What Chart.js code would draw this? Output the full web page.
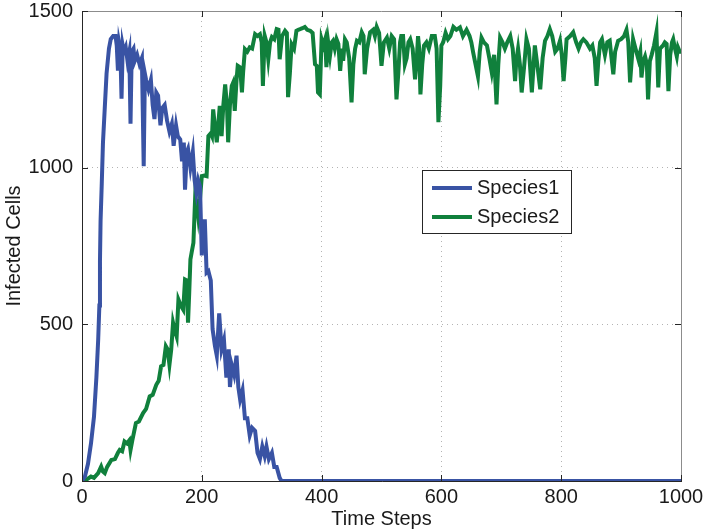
<!DOCTYPE html>
<html>
<head>
<meta charset="utf-8">
<script src="https://cdn.jsdelivr.net/npm/chart.js@4.4.0/dist/chart.umd.min.js"></script>
<style>
  html, body { margin: 0; padding: 0; background: #fff; }
  #plot { display: block; }
</style>
</head>
<body>
<canvas id="plot" width="704" height="531"></canvas>
<script>
// values
var seriesNames = ['Species1', 'Species2'];
var xTicks = [0, 200, 400, 600, 800, 1000];
var yTicks = [0, 500, 1000, 1500];

var steps1 = [0,5,10,15,20,24,27,29,30,31,33,35,38,41,45,48,52,56,58,60,62,64,66,68,70,73,76,79,81,83,86,88,92,96,100,103,105,107,111,115,118,121,124,127,129,131,134,138,142,146,150,153,157,160,164,167,170,172,175,177,181,185,188,191,194,197,200,202,205,208,211,215,218,222,225,229,233,237,241,245,247,250,254,258,261,264,268,272,276,280,284,289,293,297,301,305,308,312,317,321,325,330,333,1000];
var cells1 = [0,15,55,120,205,330,450,560,700,830,950,1080,1190,1300,1380,1410,1420,1420,1390,1310,1400,1380,1220,1390,1370,1385,1340,1370,1140,1370,1380,1340,1360,1330,1350,1005,1300,1280,1250,1280,1200,1155,1240,1230,1180,1135,1190,1200,1150,1115,1140,1070,1135,1100,1090,1020,1080,930,1050,1060,1000,1050,960,920,960,940,720,800,835,665,670,640,485,430,400,535,420,450,330,420,300,370,340,400,300,260,290,200,200,145,170,160,90,70,110,80,110,70,90,45,45,10,0,0];

var steps2 = [0,8,15,20,27,32,35,38,42,49,55,60,63,67,71,75,79,81,84,90,95,102,107,113,118,124,128,132,136,140,143,146,149,152,155,158,161,165,169,172,175,177,179,181,183,186,189,192,194,197,200,204,208,211,215,217,219,222,225,228,230,233,236,239,242,244,247,250,252,255,258,260,264,267,269,272,276,280,284,289,293,297,300,302,305,308,311,314,317,321,325,328,330,334,339,342,344,347,350,354,358,361,364,368,372,376,381,385,389,392,394,397,400,403,406,408,411,414,417,419,422,425,428,431,434,436,439,442,446,450,453,456,459,463,467,470,472,476,481,486,489,492,496,500,504,509,513,517,521,525,528,531,533,536,539,542,545,548,552,556,559,561,563,565,568,571,575,579,584,589,592,595,598,600,603,607,611,615,620,625,631,636,642,647,650,653,657,661,664,667,671,676,680,684,688,692,695,698,702,706,710,715,719,723,725,728,731,734,738,742,746,751,753,756,760,765,769,773,777,781,785,790,794,798,801,804,807,809,815,820,825,829,833,837,842,848,852,856,859,862,865,868,871,873,877,881,884,887,890,895,900,905,909,912,915,918,920,924,929,932,934,937,940,943,945,948,951,955,959,962,965,970,973,976,979,982,985,987,990,993,995,998,1000];
var cells2 = [0,5,14,10,25,46,30,25,45,67,70,90,99,95,126,120,130,99,130,185,190,217,230,270,275,307,320,366,370,430,420,371,420,505,480,461,579,560,547,643,640,505,600,707,729,760,909,880,845,900,973,975,973,1101,1110,1101,1186,1130,1081,1150,1197,1101,1200,1266,1200,1081,1200,1261,1270,1181,1280,1325,1320,1240,1305,1378,1370,1384,1380,1426,1420,1426,1400,1261,1421,1400,1346,1400,1417,1410,1442,1440,1346,1420,1437,1430,1225,1300,1394,1380,1437,1440,1442,1445,1449,1440,1437,1430,1330,1325,1240,1234,1410,1390,1410,1321,1400,1357,1400,1405,1380,1410,1395,1309,1380,1341,1410,1400,1350,1208,1330,1380,1405,1400,1432,1420,1298,1380,1432,1440,1420,1449,1430,1325,1400,1415,1380,1420,1410,1218,1300,1400,1420,1420,1330,1350,1400,1410,1380,1282,1350,1420,1380,1234,1330,1390,1400,1380,1420,1420,1380,1145,1260,1390,1400,1430,1410,1420,1449,1440,1448,1420,1440,1420,1400,1368,1330,1292,1370,1415,1400,1390,1350,1305,1360,1202,1330,1415,1400,1380,1400,1420,1380,1276,1340,1380,1330,1240,1320,1410,1380,1240,1300,1390,1330,1250,1350,1405,1420,1442,1420,1370,1380,1405,1360,1276,1350,1410,1420,1432,1400,1380,1400,1410,1400,1380,1390,1350,1261,1340,1400,1410,1380,1360,1400,1405,1350,1298,1370,1405,1410,1420,1440,1400,1272,1350,1410,1380,1345,1370,1288,1340,1355,1330,1218,1340,1360,1390,1432,1256,1380,1390,1400,1395,1244,1360,1400,1410,1380,1355,1384,1370,1370];

var FONT = '"Liberation Sans", Arial, Helvetica, sans-serif';
var INK = '#1a1a1a';

function toPoints(xs, ys) {
    return xs.map(function (x, i) { return { x: x, y: ys[i] }; });
}

function plainLabel(v) { return String(v); }

// MATLAB style box, inward ticks and the legend
var boxPlugin = {
    id: 'box',
    afterDatasetsDraw: function (chart) {
        var ctx = chart.ctx;
        var a = chart.chartArea;
        var xs = chart.scales.x, ys = chart.scales.y;
        ctx.save();
        ctx.lineWidth = 1;
        ctx.strokeStyle = '#8c8c8c';
        ctx.beginPath();
        ctx.moveTo(a.left, a.top + 0.5);
        ctx.lineTo(a.right + 0.5, a.top + 0.5);
        ctx.lineTo(a.right + 0.5, a.bottom);
        ctx.stroke();
        ctx.strokeStyle = '#262626';
        ctx.beginPath();
        ctx.moveTo(a.left + 0.5, a.top);
        ctx.lineTo(a.left + 0.5, a.bottom + 0.5);
        ctx.lineTo(a.right + 1, a.bottom + 0.5);
        ctx.stroke();
        ctx.beginPath();
        xTicks.forEach(function (t) {
            var px = Math.round(xs.getPixelForValue(t)) + 0.5;
            ctx.moveTo(px, a.bottom); ctx.lineTo(px, a.bottom - 6);
            ctx.moveTo(px, a.top); ctx.lineTo(px, a.top + 6);
        });
        yTicks.forEach(function (t) {
            var py = Math.round(ys.getPixelForValue(t)) + 0.5;
            ctx.moveTo(a.left, py); ctx.lineTo(a.left + 6, py);
            ctx.moveTo(a.right, py); ctx.lineTo(a.right - 6, py);
        });
        ctx.stroke();

        // legend
        var lx = 422.5, ly = 170.5, lw = 149, lh = 63;
        ctx.fillStyle = '#fff';
        ctx.fillRect(lx, ly, lw, lh);
        ctx.strokeStyle = '#262626';
        ctx.strokeRect(lx, ly, lw, lh);
        ctx.font = '20px ' + FONT;
        ctx.textBaseline = 'middle';
        ctx.textAlign = 'left';
        chart.data.datasets.forEach(function (ds, i) {
            var y = 188 + i * 29;
            ctx.strokeStyle = ds.borderColor;
            ctx.lineWidth = 4;
            ctx.beginPath();
            ctx.moveTo(432, y); ctx.lineTo(472, y);
            ctx.stroke();
            ctx.fillStyle = INK;
            ctx.fillText(seriesNames[i], 477, y);
        });
        ctx.restore();
    }
};

new Chart(document.getElementById('plot'), {
    type: 'line',
    data: {
        datasets: [{
            label: seriesNames[0],
            data: toPoints(steps1, cells1),
            borderColor: '#3953a4',
            borderWidth: 4,
            pointRadius: 0,
            tension: 0,
            clip: 0
        }, {
            label: seriesNames[1],
            data: toPoints(steps2, cells2),
            borderColor: '#10803c',
            borderWidth: 4,
            pointRadius: 0,
            tension: 0,
            clip: 0
        }]
    },
    options: {
        responsive: false,
        animation: false,
        devicePixelRatio: 1,
        layout: { padding: { left: 0, right: 23, top: 11, bottom: 0 } },
        plugins: {
            legend: { display: false },
            tooltip: { enabled: false }
        },
        scales: {
            x: {
                type: 'linear',
                min: 0,
                max: 1000,
                afterBuildTicks: function (s) { s.ticks = xTicks.map(function (v) { return { value: v }; }); },
                afterFit: function (s) { s.height = 50; s.paddingLeft = 0; s.paddingRight = 0; },
                ticks: { color: INK, font: { family: FONT, size: 20 }, padding: 4, maxRotation: 0, callback: plainLabel },
                grid: { color: '#b4b4b4', drawTicks: false },
                border: { display: false, dash: [1, 4] },
                title: { display: true, text: 'Time Steps', color: INK, font: { family: FONT, size: 20 }, padding: 0 }
            },
            y: {
                min: 0,
                max: 1500,
                afterBuildTicks: function (s) { s.ticks = yTicks.map(function (v) { return { value: v }; }); },
                afterFit: function (s) { s.width = 82; s.paddingTop = 0; s.paddingBottom = 0; },
                ticks: { color: INK, font: { family: FONT, size: 20 }, padding: 9, callback: plainLabel },
                grid: { color: '#b4b4b4', drawTicks: false },
                border: { display: false, dash: [1, 4] },
                title: { display: true, text: 'Infected Cells', color: INK, font: { family: FONT, size: 20 }, padding: { top: 2 } }
            }
        }
    },
    plugins: [boxPlugin]
});
</script>
</body>
</html>
